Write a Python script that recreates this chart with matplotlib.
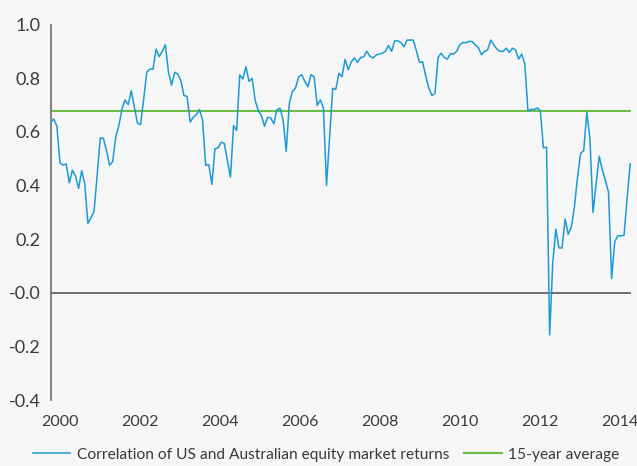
import numpy as np
import matplotlib
matplotlib.use("Agg")
import matplotlib.pyplot as plt

plt.rcParams['font.family'] = ['Lato', 'DejaVu Sans']

# Correlation of US and Australian equity market returns (late 1999 -> mid 2014)
correlation = [
    0.636, 0.648, 0.621, 0.483, 0.476, 0.480, 0.410, 0.457, 0.435, 0.389, 0.455, 0.406,
    0.258, 0.280, 0.304, 0.440, 0.577, 0.576, 0.530, 0.475, 0.489, 0.582, 0.623, 0.685,
    0.719, 0.701, 0.753, 0.691, 0.632, 0.627, 0.722, 0.822,
    0.834, 0.833, 0.908, 0.880, 0.900, 0.924, 0.822, 0.774, 0.822, 0.815, 0.791, 0.735,
    0.732, 0.636, 0.654, 0.664, 0.683, 0.644, 0.475, 0.478, 0.404, 0.537, 0.540, 0.561,
    0.557, 0.493, 0.431, 0.623, 0.605, 0.812, 0.797,
    0.843, 0.788, 0.799, 0.716, 0.679, 0.660, 0.621, 0.654, 0.652, 0.630, 0.682, 0.688,
    0.644, 0.527, 0.706, 0.751, 0.763, 0.805, 0.813, 0.788, 0.768, 0.813, 0.805, 0.698,
    0.719, 0.689, 0.400, 0.580, 0.762, 0.758, 0.818,
    0.805, 0.870, 0.831, 0.861, 0.875, 0.859, 0.877, 0.880, 0.900, 0.882, 0.875, 0.886,
    0.890, 0.893, 0.900, 0.922, 0.900, 0.939, 0.939, 0.933, 0.917, 0.942, 0.942, 0.942,
    0.902, 0.859, 0.861, 0.809, 0.763, 0.735, 0.743, 0.877,
    0.893, 0.877, 0.871, 0.892, 0.890, 0.900, 0.924, 0.933, 0.932, 0.937, 0.937, 0.924,
    0.914, 0.887, 0.900, 0.906, 0.942, 0.924, 0.908, 0.900, 0.900, 0.912, 0.896, 0.912,
    0.905, 0.871, 0.890, 0.853, 0.677, 0.684, 0.683,
    0.689, 0.679, 0.540, 0.543, -0.157, 0.109, 0.237, 0.167, 0.167, 0.275, 0.218, 0.245,
    0.320, 0.431, 0.520, 0.530, 0.673, 0.574, 0.299, 0.406, 0.509, 0.458, 0.419, 0.375,
    0.053, 0.190, 0.212, 0.212, 0.214, 0.351, 0.481,
]
average_15y = 0.678

start_year = 1999.775
end_year = 2014.26

xtick_years = [2000, 2002, 2004, 2006, 2008, 2010, 2012, 2014]
xtick_labels = ['2000', '2002', '2004', '2006', '2008', '2010', '2012', '2014']
ytick_values = [-0.4, -0.2, 0.0, 0.2, 0.4, 0.6, 0.8, 1.0]
ytick_labels = ['-0.4', '-0.2', '-0.0', '0.2', '0.4', '0.6', '0.8', '1.0']

series_label = 'Correlation of US and Australian equity market returns'
avg_label = '15-year average'

BG = '#f6f6f6'
BLUE = '#1b9ad6'
GREEN = '#6cbd45'
GRAY = '#6e6e6e'
TEXT = '#3a3a3a'

x = np.linspace(start_year, end_year, len(correlation))

fig = plt.figure(figsize=(6.37, 4.66), dpi=100, facecolor=BG)
ax = fig.add_axes([0.0796, 0.1416, 0.9906 - 0.0796, 0.9474 - 0.1416])
ax.set_facecolor(BG)

ax.axhline(0, color=GRAY, lw=1.4, zorder=1)
l2 = ax.axhline(average_15y, color=GREEN, lw=1.5, zorder=2, label=avg_label)
l1, = ax.plot(x, correlation, color=BLUE, lw=1.1, zorder=3, label=series_label)

ax.set_xlim(1999.775, 2014.28)
ax.set_ylim(-0.4, 1.0)

for s in ['top', 'right', 'bottom']:
    ax.spines[s].set_visible(False)
ax.spines['left'].set_color(GRAY)
ax.spines['left'].set_linewidth(1.2)

ax.set_yticks(ytick_values)
ax.set_yticklabels(ytick_labels, fontsize=13, color=TEXT)
ax.set_xticks(xtick_years)
ax.set_xticklabels(xtick_labels, fontsize=11.5, color=TEXT)
ax.tick_params(axis='both', length=0)
ax.tick_params(axis='y', pad=7)
ax.tick_params(axis='x', pad=11)

fig.legend(handles=[l1, l2], loc='center', bbox_to_anchor=(0.512, 0.024), ncol=2,
           frameon=False, fontsize=11.2, handlelength=2.4, handletextpad=0.4,
           columnspacing=1.0, labelcolor=TEXT)

fig.savefig('out.png', dpi=100, facecolor=BG)
